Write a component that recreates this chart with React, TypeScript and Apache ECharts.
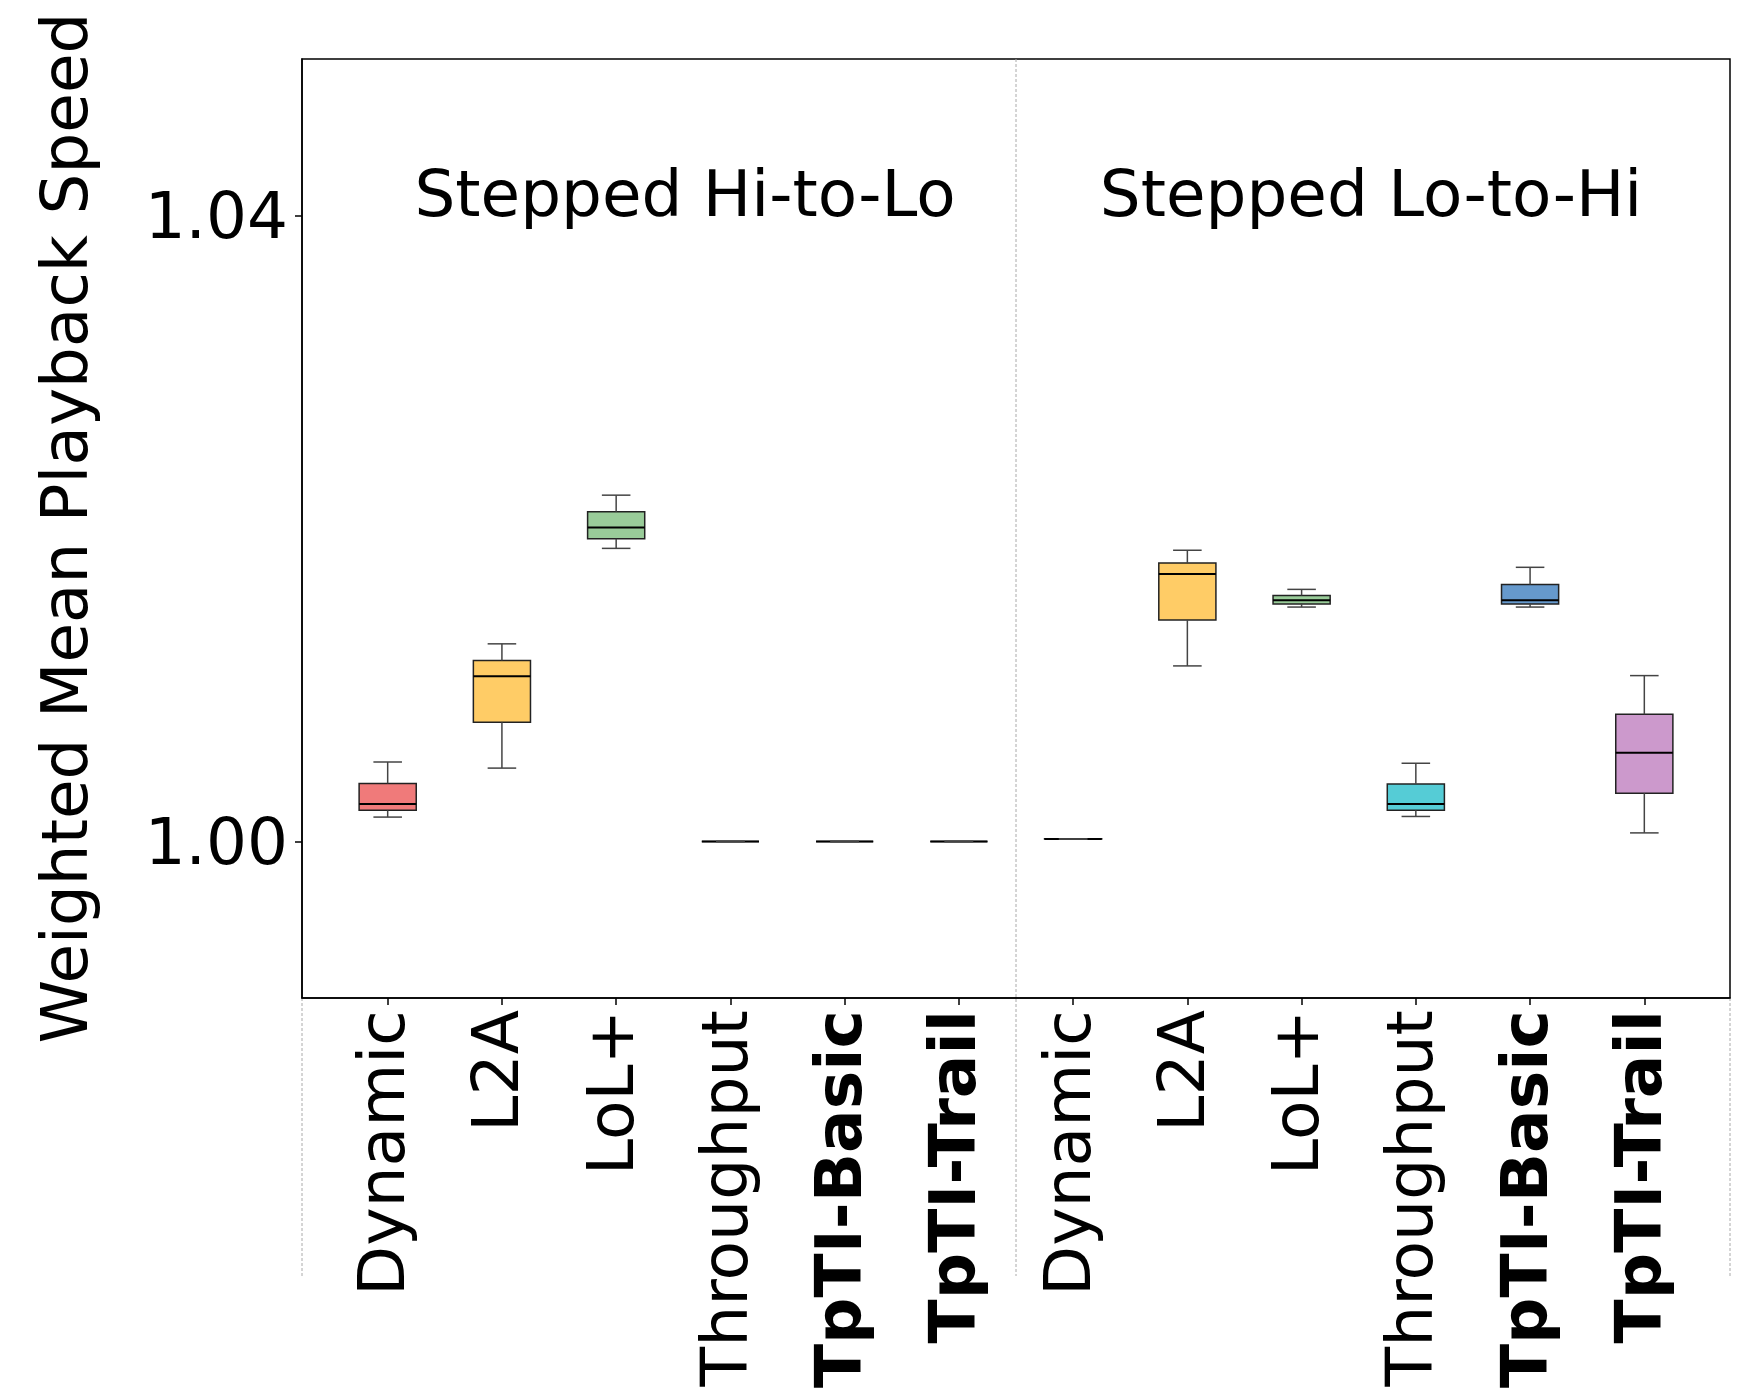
import React, { useEffect, useRef } from "react";
import * as echarts from "echarts";

// Method names (x-axis tick labels), repeated for each scenario
const methods = ["Dynamic", "L2A", "LoL+", "Throughput", "TpTI-Basic", "TpTI-Trail"];
const boldMethods = ["TpTI-Basic", "TpTI-Trail"];
const scenarios = ["Stepped Hi-to-Lo", "Stepped Lo-to-Hi"];

// Box statistics: [min, Q1, median, Q3, max]
const hiToLo = [
  [1.00156, 1.00199, 1.0024, 1.00371, 1.00508],
  [1.00469, 1.00762, 1.01056, 1.01157, 1.01263],
  [1.01873, 1.01935, 1.02006, 1.02107, 1.02213],
  [1.0, 1.0, 1.0, 1.0, 1.0],
  [1.0, 1.0, 1.0, 1.0, 1.0],
  [1.0, 1.0, 1.0, 1.0, 1.0],
];
const loToHi = [
  [1.00015, 1.00016, 1.00016, 1.00017, 1.00017],
  [1.01122, 1.01415, 1.01709, 1.01779, 1.01861],
  [1.01498, 1.01517, 1.01541, 1.01572, 1.01611],
  [1.0016, 1.00199, 1.00239, 1.00368, 1.005],
  [1.01498, 1.01517, 1.01541, 1.01642, 1.01752],
  [1.00055, 1.00309, 1.00567, 1.00813, 1.0106],
];
const yTicks = [1.0, 1.04];

const methodColors = ["#F07A7A", "#FFCC66", "#99CC99", "#55CCD6", "#6699CC", "#CC99CC"];

const FONT = "DejaVu Sans";
const FS = 64.4;
const FS_X = 64.8;

export default function App() {
  const ref = useRef<HTMLDivElement>(null);

  useEffect(() => {
    if (!ref.current) return;
    const chart = echarts.init(ref.current, null, { renderer: "svg" });

    const allLabels = [...methods, ...methods];
    const allStats = [...hiToLo, ...loToHi];
    const positions = allLabels.map((_, i) => i + 1);
    const data = allStats.map((s, i) => ({ value: [positions[i], ...s] }));

    const gridLeft = 302;
    const gridTop = 59;
    const gridW = 1428;
    const gridH = 939;
    const xMin = 0.25;
    const xMax = 12.75;
    const pxPerUnit = gridW / (xMax - xMin);
    const divX = gridLeft + (6.5 - xMin) * pxPerUnit;
    const lineBottom = 1276;

    const option: any = {
      animation: false,
      backgroundColor: "#ffffff",
      grid: {
        left: gridLeft,
        top: gridTop,
        width: gridW,
        height: gridH,
        show: true,
        borderColor: "#000",
        borderWidth: 1.5,
        backgroundColor: "transparent",
      },
      xAxis: {
        type: "value",
        min: xMin,
        max: xMax,
        splitLine: { show: false },
        axisLine: { show: true, lineStyle: { color: "#000", width: 1.5 } },
        axisTick: {
          show: true,
          customValues: positions,
          length: 7,
          inside: false,
          lineStyle: { color: "#000", width: 1.5 },
        },
        axisLabel: {
          customValues: positions,
          rotate: 90,
          margin: 12,
          fontFamily: FONT,
          fontSize: FS_X,
          color: "#000",
          formatter: (v: number) => {
            const name = allLabels[Math.round(v) - 1] || "";
            return boldMethods.includes(name) ? `{b|${name}}` : `{n|${name}}`;
          },
          rich: {
            n: { fontFamily: FONT, fontSize: FS_X, color: "#000", padding: [0, 0, 12, 0] },
            b: { fontFamily: FONT, fontSize: FS_X, fontWeight: "bold", color: "#000", padding: [0, 0, 12, 0] },
          },
        },
      },
      yAxis: {
        type: "value",
        min: 0.99,
        max: 1.05,
        splitLine: { show: false },
        axisLine: { show: true, lineStyle: { color: "#000", width: 1.5 } },
        axisTick: {
          show: true,
          customValues: yTicks,
          length: 7,
          inside: false,
          lineStyle: { color: "#000", width: 1.5 },
        },
        axisLabel: {
          customValues: yTicks,
          margin: 14,
          fontFamily: FONT,
          fontSize: FS,
          color: "#000",
          formatter: (v: number) => v.toFixed(2),
        },
      },
      graphic: [
        {
          type: "line",
          silent: true,
          shape: { x1: divX, y1: gridTop, x2: divX, y2: lineBottom },
          style: { stroke: "#aaaaaa", lineWidth: 1, lineDash: [3, 2] },
        },
        {
          type: "line",
          silent: true,
          shape: { x1: gridLeft, y1: gridTop + gridH, x2: gridLeft, y2: lineBottom },
          style: { stroke: "#aaaaaa", lineWidth: 1, lineDash: [3, 2] },
        },
        {
          type: "line",
          silent: true,
          shape: { x1: gridLeft + gridW, y1: gridTop + gridH, x2: gridLeft + gridW, y2: lineBottom },
          style: { stroke: "#aaaaaa", lineWidth: 1, lineDash: [3, 2] },
        },
        {
          type: "text",
          x: 685,
          y: 193,
          style: {
            text: scenarios[0],
            fontFamily: FONT,
            fontSize: FS,
            fill: "#000",
            textAlign: "center",
            textVerticalAlign: "middle",
          },
        },
        {
          type: "text",
          x: 1371,
          y: 193,
          style: {
            text: scenarios[1],
            fontFamily: FONT,
            fontSize: FS,
            fill: "#000",
            textAlign: "center",
            textVerticalAlign: "middle",
          },
        },
        {
          type: "text",
          x: 64,
          y: 528,
          rotation: Math.PI / 2,
          style: {
            text: "Weighted Mean Playback Speed",
            fontFamily: FONT,
            fontSize: FS,
            fill: "#000",
            textAlign: "center",
            textVerticalAlign: "middle",
          },
        },
      ],
      series: [
        {
          type: "custom",
          data,
          encode: { x: 0, y: [1, 2, 3, 4, 5] },
          renderItem: (params: any, api: any) => {
            const x = api.value(0);
            const mn = api.value(1);
            const q1 = api.value(2);
            const md = api.value(3);
            const q3 = api.value(4);
            const mx = api.value(5);
            const w = api.size([0.5, 0])[0];
            const pMin = api.coord([x, mn]);
            const pQ1 = api.coord([x, q1]);
            const pMd = api.coord([x, md]);
            const pQ3 = api.coord([x, q3]);
            const pMax = api.coord([x, mx]);
            const cx = pMin[0];
            const color = methodColors[params.dataIndex % methodColors.length];
            const whisk = { stroke: "#444", lineWidth: 1.5 };
            return {
              type: "group",
              children: [
                {
                  type: "rect",
                  shape: { x: cx - w / 2, y: pQ3[1], width: w, height: Math.max(pQ1[1] - pQ3[1], 0) },
                  style: { fill: color, stroke: "#222", lineWidth: 1.5 },
                },
                {
                  type: "line",
                  shape: { x1: cx - w / 2, y1: pMd[1], x2: cx + w / 2, y2: pMd[1] },
                  style: { stroke: "#000", lineWidth: 2 },
                },
                {
                  type: "line",
                  shape: { x1: cx, y1: pQ1[1], x2: cx, y2: pMin[1] },
                  style: whisk,
                },
                {
                  type: "line",
                  shape: { x1: cx, y1: pQ3[1], x2: cx, y2: pMax[1] },
                  style: whisk,
                },
                {
                  type: "line",
                  shape: { x1: cx - w / 4, y1: pMin[1], x2: cx + w / 4, y2: pMin[1] },
                  style: whisk,
                },
                {
                  type: "line",
                  shape: { x1: cx - w / 4, y1: pMax[1], x2: cx + w / 4, y2: pMax[1] },
                  style: whisk,
                },
              ],
            };
          },
        },
      ],
    };

    chart.setOption(option);
    return () => chart.dispose();
  }, []);

  return (
    <div
      ref={ref}
      style={{ position: "absolute", left: 0, top: 0, width: 1742, height: 1398, background: "#fff" }}
    />
  );
}
